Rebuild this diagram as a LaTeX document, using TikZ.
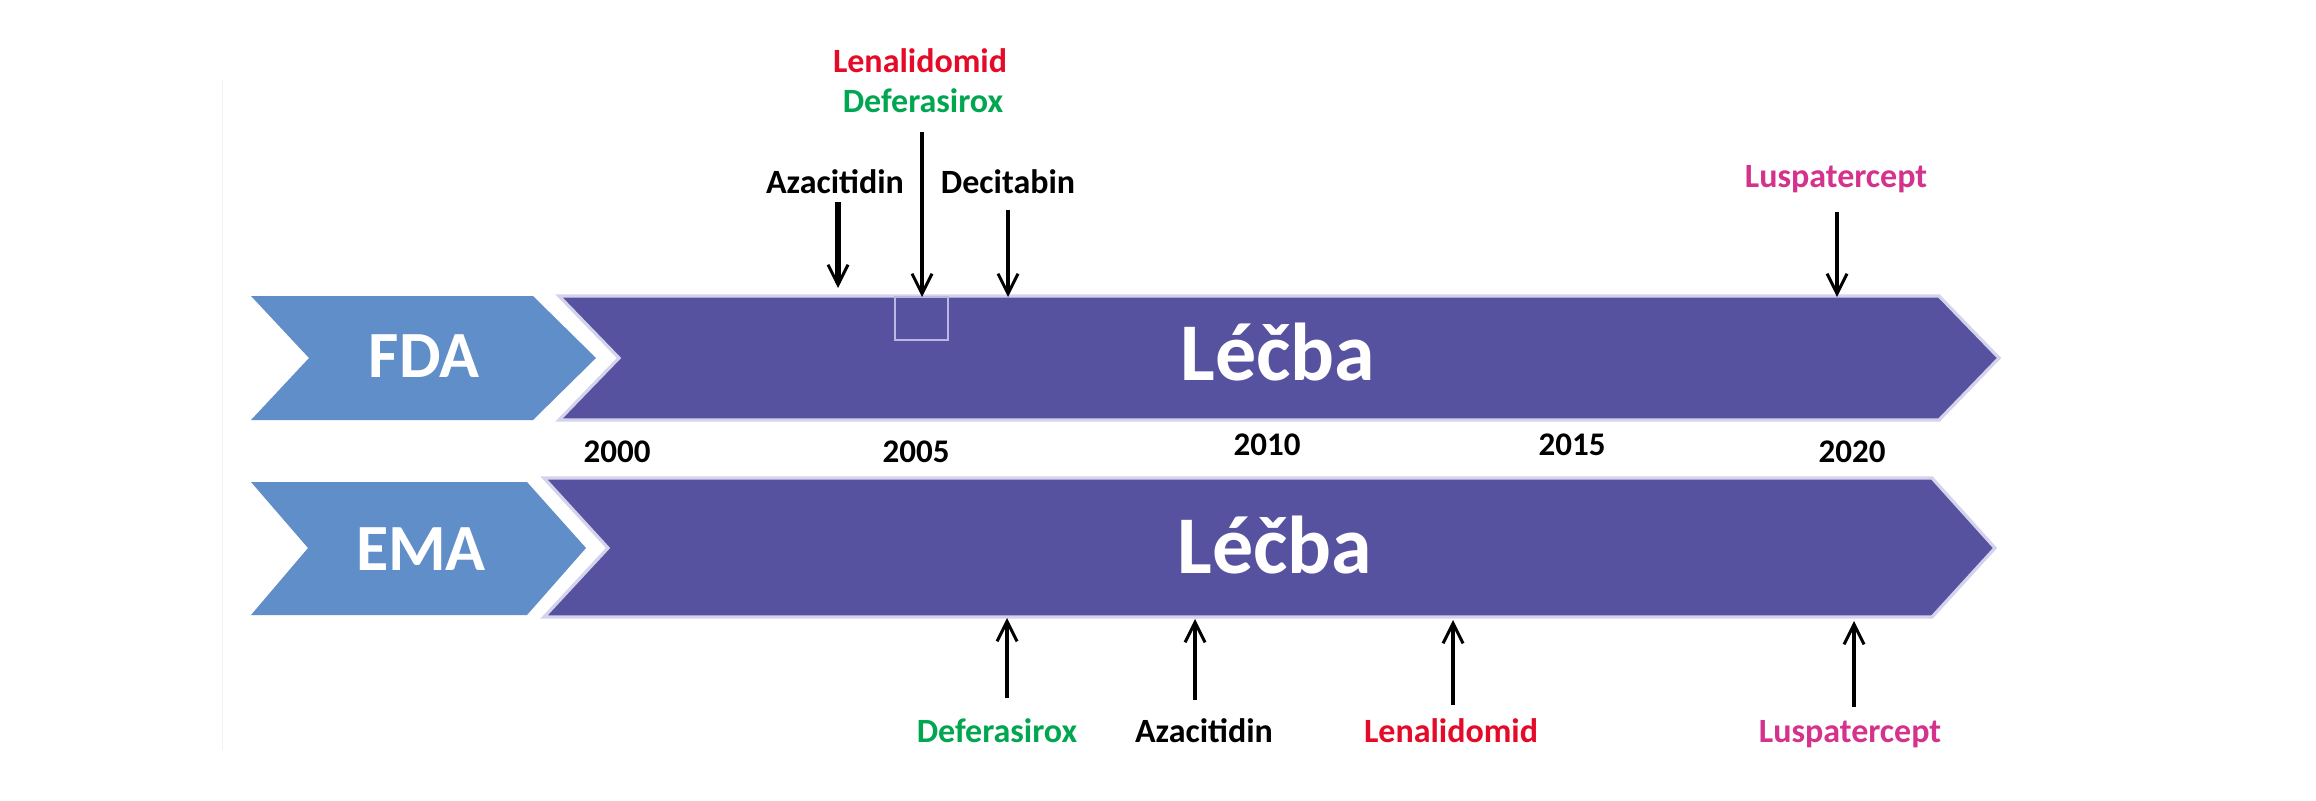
\documentclass[tikz,border=0pt]{standalone}
\usepackage{fontspec}
\setmainfont{Carlito}
\usetikzlibrary{arrows.meta}
\definecolor{chevblue}{RGB}{96,142,200}
\definecolor{bandpurple}{RGB}{87,82,160}
\definecolor{glow}{RGB}{212,210,236}
\definecolor{lenred}{RGB}{228,10,40}
\definecolor{defgreen}{RGB}{0,166,80}
\definecolor{luspink}{RGB}{212,50,140}
\tikzset{
  chev/.style={fill=chevblue, draw=none},
  band/.style={fill=bandpurple, draw=glow, line width=1.6},
  lbl/.style={anchor=base, inner sep=0, font=\fontsize{17}{20}\selectfont\bfseries},
  yr/.style={anchor=base, inner sep=0, font=\fontsize{16.5}{19}\selectfont\bfseries, text=black},
  big/.style={anchor=base, inner sep=0, text=white, font=\fontsize{33}{38}\selectfont\bfseries},
  huge/.style={anchor=base, inner sep=0, text=white, font=\fontsize{41}{48}\selectfont\bfseries},
  arr/.style={-{Straight Barb[length=10pt,width=10pt,line width=1.5pt]}, line width=1.6pt, black},
  arrthick/.style={arr, line width=2.6pt},
}
\begin{document}
\begin{tikzpicture}[x=0.5pt,y=-0.5pt]
\useasboundingbox (0,0) rectangle (2316,800);
\fill[white] (0,0) rectangle (2316,800);
\draw[black!5, line width=0.5] (222,80) -- (222,750);
% FDA row
\path[chev] (251,296) -- (533,296) -- (596,358) -- (533,420) -- (251,420) -- (309,358) -- cycle;
\path[band] (559,296) -- (1939,296) -- (1999,358) -- (1939,420) -- (559,420) -- (619,358) -- cycle;
\draw[glow!80!bandpurple, line width=0.8] (895,297) rectangle (948,340);
\node[big] (fda) at (424,377) {FDA};
\node[huge] (lecbaF) at (1278,380) {Léčba};
% EMA row
\path[chev] (251,482) -- (527,482) -- (586,548) -- (527,615) -- (251,615) -- (308,548) -- cycle;
\path[band] (544,478) -- (1932,478) -- (1995,548) -- (1932,617) -- (544,617) -- (608,548) -- cycle;
\node[big] (ema) at (421,570) {EMA};
\node[huge] (lecbaE) at (1275,573) {Léčba};
% years
\node[yr] (y2000) at (617,462) {2000};
\node[yr] (y2005) at (916,462) {2005};
\node[yr] (y2010) at (1267,455) {2010};
\node[yr] (y2015) at (1572,455) {2015};
\node[yr] (y2020) at (1852,462) {2020};
% FDA labels
\node[lbl, text=lenred] (fLen) at (920,72) {Lenalidomid};
\node[lbl, text=defgreen] (fDef) at (923,112) {Deferasirox};
\node[lbl, text=black] (fAza) at (835,193) {Azacitidin};
\node[lbl, text=black] (fDec) at (1008,193) {Decitabin};
\node[lbl, text=luspink] (fLus) at (1836,187) {Luspatercept};
\coordinate (fAzaS) at (838,202); \coordinate (fAzaE) at (838,288);
\coordinate (fLDS) at (922,132); \coordinate (fLDE) at (922,297);
\coordinate (fDecS) at (1008,210); \coordinate (fDecE) at (1008,297);
\coordinate (fLusS) at (1837,212); \coordinate (fLusE) at (1837,297);
\draw[arrthick] (fAzaS) -- (fAzaE);
\draw[arr, line width=2pt] (fLDS) -- (fLDE);
\draw[arr] (fDecS) -- (fDecE);
\draw[arr] (fLusS) -- (fLusE);
% EMA labels
\node[lbl, text=defgreen] (eDef) at (997,742) {Deferasirox};
\node[lbl, text=black] (eAza) at (1204,742) {Azacitidin};
\node[lbl, text=lenred] (eLen) at (1451,742) {Lenalidomid};
\node[lbl, text=luspink] (eLus) at (1850,742) {Luspatercept};
\coordinate (eDefS) at (1007,698); \coordinate (eDefE) at (1007,618);
\coordinate (eAzaS) at (1195,700); \coordinate (eAzaE) at (1195,619);
\coordinate (eLenS) at (1453,705); \coordinate (eLenE) at (1453,620);
\coordinate (eLusS) at (1854,707); \coordinate (eLusE) at (1854,621);
\draw[arr, line width=1.8pt] (eDefS) -- (eDefE);
\draw[arr, line width=1.8pt] (eAzaS) -- (eAzaE);
\draw[arr, line width=1.8pt] (eLenS) -- (eLenE);
\draw[arr, line width=1.8pt] (eLusS) -- (eLusE);
\end{tikzpicture}
\end{document}
